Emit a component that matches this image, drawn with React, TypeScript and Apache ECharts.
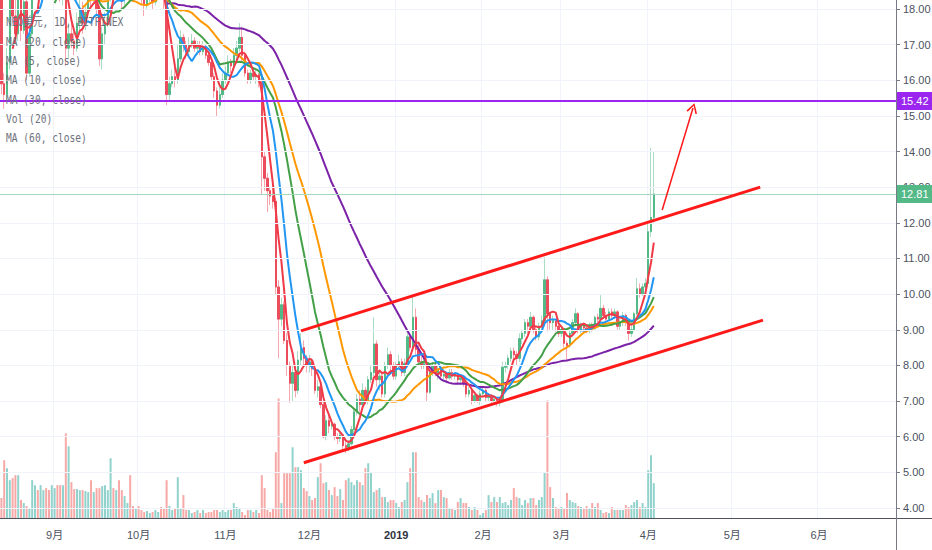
import React, { useEffect, useRef } from 'react';
import * as echarts from 'echarts';

// ---- data (daily candles, NEO/USD Bitfinex) : [open, close, low, high]
const START_DATE = Date.UTC(2018, 7, 13);
const DAY_COUNT = 320;

const ohlcAug = [
  [18.4, 15.9, 15.6, 18.6], [15.9, 15.6, 15.2, 16.2], [15.6, 16.5, 15.4, 16.9], [16.5, 18.6, 16.3, 18.9],
  [18.6, 17.8, 17.6, 19.2], [17.8, 17.3, 17.0, 18.4], [17.3, 18.3, 17.1, 18.6], [18.3, 17.4, 17.1, 18.5],
  [17.4, 18.2, 17.3, 18.5], [18.2, 16.2, 16.0, 18.4], [16.2, 17.3, 16.1, 17.5], [17.3, 18.8, 17.2, 19.0],
  [18.8, 19.0, 18.6, 19.3], [19.0, 18.6, 18.3, 19.2], [18.6, 19.6, 18.5, 19.9], [19.6, 20.2, 19.4, 20.6],
  [20.2, 19.7, 19.4, 20.4], [19.7, 19.1, 18.7, 19.9], [19.1, 19.4, 18.9, 19.7],
];
const ohlcSep = [
  [19.4, 19.7, 19.2, 20.0], [19.7, 19.5, 19.2, 19.9], [19.5, 18.4, 18.2, 19.7], [18.4, 18.7, 18.1, 19.0],
  [18.7, 16.9, 16.4, 18.9], [16.9, 17.3, 16.6, 17.6], [17.3, 17.1, 16.9, 17.7], [17.1, 16.9, 16.7, 17.4],
  [16.9, 17.6, 16.8, 17.9], [17.6, 18.0, 17.4, 18.3], [18.0, 17.6, 17.3, 18.2], [17.6, 17.9, 17.4, 18.1],
  [17.9, 18.5, 17.8, 18.8], [18.5, 18.3, 18.0, 18.7], [18.3, 18.5, 18.2, 18.8], [18.5, 18.0, 17.8, 18.6],
  [18.0, 16.6, 16.4, 18.1], [16.6, 17.3, 16.3, 17.5], [17.3, 17.6, 17.0, 17.9], [17.6, 18.3, 17.5, 18.5],
  [18.3, 19.2, 18.2, 19.5], [19.2, 19.0, 18.7, 19.4], [19.0, 19.3, 18.9, 19.6], [19.3, 18.6, 18.4, 19.4],
  [18.6, 18.3, 18.0, 18.8], [18.3, 18.5, 18.1, 18.8], [18.5, 18.9, 18.4, 19.1], [18.9, 18.6, 18.4, 19.2],
  [18.6, 18.4, 18.2, 18.8], [18.4, 18.6, 18.3, 18.8],
];
const ohlcOct = [
  [18.6, 18.5, 18.3, 18.9], [18.5, 18.3, 18.1, 18.7], [18.3, 18.1, 17.8, 18.4], [18.1, 18.4, 18.0, 18.6],
  [18.4, 18.5, 18.2, 18.7], [18.5, 18.2, 18.0, 18.6], [18.2, 18.4, 18.1, 18.6], [18.4, 18.8, 18.3, 19.0],
  [18.8, 18.5, 18.3, 18.9], [18.5, 18.3, 18.0, 18.6], [18.3, 15.6, 15.3, 18.4], [15.6, 15.9, 15.4, 16.1],
  [15.9, 16.1, 15.8, 16.3], [16.1, 16.0, 15.8, 16.4], [16.0, 16.6, 15.9, 17.0], [16.6, 17.2, 16.5, 17.4],
  [17.2, 17.0, 16.8, 17.3], [17.0, 16.8, 16.6, 17.1], [16.8, 17.0, 16.7, 17.2], [17.0, 17.1, 16.9, 17.3],
  [17.1, 16.9, 16.8, 17.2], [16.9, 17.0, 16.7, 17.1], [17.0, 16.8, 16.7, 17.1], [16.8, 16.9, 16.7, 17.1],
  [16.9, 16.7, 16.6, 17.0], [16.7, 16.5, 16.4, 16.8], [16.5, 16.1, 16.0, 16.6], [16.1, 15.7, 15.5, 16.2],
  [15.7, 15.3, 15.0, 15.8], [15.3, 15.6, 15.2, 15.8], [15.6, 16.0, 15.5, 16.2],
];
const ohlcNov = [
  [16.0, 16.2, 15.9, 16.4], [16.2, 16.5, 16.1, 16.7], [16.5, 16.4, 16.2, 16.6], [16.4, 16.7, 16.3, 16.9],
  [16.7, 16.9, 16.5, 17.1], [16.9, 17.2, 16.8, 17.6], [17.2, 16.7, 16.5, 17.5], [16.7, 16.2, 16.1, 16.8],
  [16.2, 16.0, 15.9, 16.3], [16.0, 16.2, 15.9, 16.3], [16.2, 16.1, 16.0, 16.3], [16.1, 16.15, 15.9, 16.3],
  [16.15, 15.95, 15.8, 16.2], [15.95, 13.85, 12.8, 16.1], [13.85, 13.25, 12.9, 14.0], [13.25, 12.9, 12.3, 13.4],
  [12.9, 12.75, 12.5, 13.0], [12.75, 12.6, 12.4, 13.1], [12.6, 10.2, 10.0, 12.7], [10.2, 9.3, 8.2, 10.4],
  [9.3, 9.7, 9.1, 9.9], [9.7, 8.7, 8.6, 9.8], [8.7, 8.0, 7.7, 8.9], [8.0, 7.5, 6.95, 8.1],
  [7.5, 7.8, 7.0, 8.0], [7.8, 7.3, 7.1, 8.0], [7.3, 8.15, 7.2, 8.4], [8.15, 8.5, 8.0, 8.9],
  [8.5, 8.2, 8.0, 8.7], [8.2, 8.0, 7.8, 8.3],
];
const ohlcDec = [
  [8.0, 8.1, 7.8, 8.3], [8.1, 7.9, 7.7, 8.2], [7.9, 7.3, 7.2, 8.0], [7.3, 7.4, 7.1, 7.6],
  [7.4, 6.9, 6.8, 7.5], [6.9, 6.0, 5.95, 7.0], [6.0, 6.45, 5.9, 6.6], [6.45, 6.3, 6.1, 6.6],
  [6.3, 6.35, 6.2, 6.5], [6.35, 6.0, 5.9, 6.4], [6.0, 5.95, 5.8, 6.1], [5.95, 6.05, 5.85, 6.2],
  [6.05, 5.75, 5.65, 6.1], [5.75, 5.7, 5.54, 5.85], [5.7, 5.8, 5.6, 5.9], [5.8, 6.2, 5.75, 6.3],
  [6.2, 6.7, 6.1, 6.8], [6.7, 7.05, 6.6, 7.2], [7.05, 6.9, 6.7, 7.3], [6.9, 7.3, 6.8, 7.5],
  [7.3, 7.0, 6.9, 7.4], [7.0, 7.6, 6.9, 7.7], [7.6, 7.8, 7.5, 8.0], [7.8, 8.6, 7.7, 9.35],
  [8.6, 7.6, 7.4, 8.7], [7.6, 7.7, 7.3, 7.9], [7.7, 7.2, 7.1, 7.8], [7.2, 8.0, 7.1, 8.1],
  [8.0, 8.3, 7.9, 8.5], [8.3, 8.0, 7.8, 8.4], [8.0, 7.7, 7.6, 8.1],
];
const ohlcJan = [
  [7.7, 8.0, 7.6, 8.1], [8.0, 8.1, 7.9, 8.3], [8.1, 7.8, 7.7, 8.2], [7.8, 8.05, 7.7, 8.2],
  [8.05, 8.8, 8.0, 8.9], [8.8, 8.5, 8.4, 8.9], [8.5, 9.35, 8.4, 9.97], [9.35, 8.45, 8.3, 9.6],
  [8.45, 8.1, 8.0, 8.6], [8.1, 8.0, 7.9, 8.3], [8.0, 8.05, 7.9, 8.2], [8.05, 7.25, 7.0, 8.1],
  [7.25, 7.8, 7.2, 7.9], [7.8, 8.0, 7.7, 8.1], [8.0, 7.8, 7.7, 8.1], [7.8, 7.9, 7.6, 8.0],
  [7.9, 7.7, 7.6, 8.0], [7.7, 7.75, 7.6, 7.9], [7.75, 7.65, 7.5, 7.8], [7.65, 7.8, 7.6, 7.9],
  [7.8, 7.7, 7.6, 7.9], [7.7, 7.75, 7.6, 7.8], [7.75, 7.6, 7.5, 7.8], [7.6, 7.65, 7.5, 7.7],
  [7.65, 7.5, 7.4, 7.7], [7.5, 7.2, 7.1, 7.55], [7.2, 7.3, 7.1, 7.4], [7.3, 7.0, 6.9, 7.35],
  [7.0, 7.15, 6.95, 7.2], [7.15, 7.0, 6.95, 7.2], [7.0, 7.2, 6.9, 7.3],
];
const ohlcFeb = [
  [7.2, 7.3, 7.1, 7.4], [7.3, 7.1, 7.0, 7.35], [7.1, 7.15, 7.0, 7.2], [7.15, 7.0, 6.9, 7.2],
  [7.0, 7.05, 6.9, 7.1], [7.05, 6.95, 6.85, 7.1], [6.95, 7.0, 6.85, 7.1], [7.0, 7.95, 6.95, 8.1],
  [7.95, 8.0, 7.8, 8.1], [8.0, 8.2, 7.9, 8.3], [8.2, 8.4, 8.1, 8.5], [8.4, 8.3, 8.1, 8.5],
  [8.3, 8.2, 8.0, 8.4], [8.2, 8.75, 8.1, 8.9], [8.75, 8.9, 8.6, 9.0], [8.9, 9.2, 8.8, 9.3],
  [9.2, 9.1, 8.9, 9.3], [9.1, 9.35, 9.0, 9.5], [9.35, 9.0, 8.9, 9.4], [9.0, 8.8, 8.7, 9.1],
  [8.8, 9.1, 8.7, 9.2], [9.1, 9.25, 9.0, 9.4], [9.25, 10.4, 9.1, 11.04], [10.4, 9.45, 8.95, 10.5],
  [9.45, 9.2, 9.0, 9.5], [9.2, 9.25, 9.0, 9.4], [9.25, 9.1, 8.95, 9.3], [9.1, 8.9, 8.8, 9.2],
];
const ohlcMar = [
  [8.9, 9.0, 8.8, 9.1], [9.0, 8.62, 8.5, 9.05], [8.62, 8.55, 8.15, 8.7], [8.55, 8.9, 8.5, 9.0],
  [8.9, 9.2, 8.8, 9.3], [9.2, 9.45, 9.1, 9.6], [9.45, 9.0, 8.9, 9.5], [9.0, 9.15, 8.9, 9.2],
  [9.15, 9.05, 8.95, 9.2], [9.05, 9.0, 8.9, 9.1], [9.0, 9.1, 8.9, 9.2], [9.1, 9.05, 8.95, 9.2],
  [9.05, 9.35, 9.0, 9.4], [9.35, 9.3, 9.2, 9.45], [9.3, 9.6, 9.25, 9.97], [9.6, 9.4, 9.3, 9.7],
  [9.4, 9.3, 9.2, 9.5], [9.3, 9.5, 9.25, 9.6], [9.5, 9.4, 9.3, 9.6], [9.4, 9.5, 9.3, 9.6],
  [9.5, 9.1, 9.0, 9.55], [9.1, 9.2, 9.0, 9.3], [9.2, 9.4, 9.1, 9.5], [9.4, 9.2, 9.1, 9.45],
  [9.2, 8.9, 8.7, 9.25], [8.9, 9.0, 8.8, 9.1], [9.0, 9.45, 8.95, 9.5], [9.45, 10.15, 9.4, 10.45],
  [10.15, 10.0, 9.9, 10.3], [10.0, 10.2, 9.95, 10.3], [10.2, 10.3, 10.1, 10.45],
];
const ohlcApr = [
  [10.3, 11.75, 10.2, 12.0], [11.75, 12.15, 11.6, 14.1], [12.15, 12.81, 12.0, 14.0],
];

// daily volume (thousands)
const volAug = [20, 58, 50, 38, 40, 43, 43, 18, 15, 12, 10, 38, 33, 28, 33, 28, 30, 28, 33];
const volSep = [30, 33, 33, 33, 85, 72, 36, 29, 29, 28, 28, 27, 26, 38, 26, 30, 30, 32, 33, 28, 60, 30, 28, 38, 28, 22, 15, 43, 12, 10];
const volOct = [12, 8, 6, 7, 5, 6, 8, 6, 11, 10, 38, 12, 8, 10, 41, 10, 23, 8, 8, 5, 6, 8, 5, 8, 5, 6, 6, 8, 8, 6, 8];
const volNov = [6, 8, 8, 15, 11, 10, 6, 3, 8, 8, 6, 8, 5, 43, 30, 8, 6, 10, 66, 120, 15, 45, 45, 45, 71, 51, 51, 48, 30, 27];
const volDec = [22, 18, 20, 41, 55, 35, 36, 28, 23, 31, 22, 29, 18, 38, 40, 36, 33, 38, 36, 33, 50, 55, 46, 26, 28, 30, 21, 21, 16, 18, 18];
const volJan = [15, 11, 16, 18, 36, 50, 66, 66, 21, 18, 16, 23, 20, 25, 15, 28, 28, 21, 20, 10, 10, 8, 16, 20, 15, 15, 11, 8, 11, 8, 3];
const volFeb = [5, 8, 23, 16, 21, 16, 21, 15, 16, 13, 18, 30, 21, 20, 13, 18, 15, 20, 20, 13, 18, 21, 46, 118, 31, 20, 11, 10];
const volMar = [11, 10, 25, 18, 16, 15, 12, 11, 10, 12, 10, 15, 11, 15, 8, 5, 6, 5, 11, 8, 8, 8, 8, 13, 11, 13, 16, 18, 11, 15, 11];
const volApr = [48, 63, 35];

const priceTicks = [4, 5, 6, 7, 8, 9, 10, 11, 12, 13, 14, 15, 16, 17, 18];
const levelPrice = 15.42;
const lastPrice = 12.81;
// drawn trend channel: [categoryIndex, price]
const upperChannel = [[107, 8.97], [271, 13.0]];
const lowerChannel = [[108, 5.27], [272, 9.27]];
const targetArrow = [[236, 12.36], [247, 15.22]];

const legendLines = ['NEO美元, 1D, BITFINEX', 'MA (20, close)', 'MA (5, close)', 'MA (10, close)', 'MA (30, close)', 'Vol (20)', 'MA (60, close)'];
const maDefs: [number, string][] = [[60, '#7b22a8'], [30, '#ff9800'], [20, '#43a047'], [10, '#2196f3'], [5, '#f03a47']];

const ohlc = [...ohlcAug, ...ohlcSep, ...ohlcOct, ...ohlcNov, ...ohlcDec, ...ohlcJan, ...ohlcFeb, ...ohlcMar, ...ohlcApr];
const vols = [...volAug, ...volSep, ...volOct, ...volNov, ...volDec, ...volJan, ...volFeb, ...volMar, ...volApr];

const categories: string[] = [];
for (let i = 0; i < DAY_COUNT; i++) {
  categories.push(new Date(START_DATE + i * 86400000).toISOString().slice(0, 10));
}

function movingAverage(period: number) {
  return ohlc.map((_, i) => {
    if (i < period - 1) return null;
    let s = 0;
    for (let k = i - period + 1; k <= i; k++) s += ohlc[k][1];
    return +(s / period).toFixed(4);
  });
}

const UP = '#53b987';
const DOWN = '#eb4d5c';
const UP_WICK = '#a9dcc3';
const DOWN_WICK = '#f5a6ae';
const VOL_UP = '#92d2cc';
const VOL_DOWN = '#f7a9a7';
const LEVEL = '#9b26f0';
const TREND = '#ff1a1a';
const AXIS_TEXT = '#4c525e';
const GRID = '#f0f3fa';
const FONT = "'Liberation Sans', Arial, 'Noto Sans CJK SC', sans-serif";
const ARROW = 'path://M0,10 L5,0 L10,10 L8.6,10.7 L5,2.8 L1.4,10.7 Z';

const isMonthStart = (_: number, v: string) => v.slice(8, 10) === '01';

export default function App() {
  const ref = useRef<HTMLDivElement>(null);
  useEffect(() => {
    if (!ref.current) return;
    const chart = echarts.init(ref.current, null, { renderer: 'svg' });
    const closes = ohlc.map((r) => r[1]);
    const option: any = {
      animation: false,
      backgroundColor: '#ffffff',
      grid: { left: 0, right: 36, top: 0, bottom: 32, containLabel: false, outerBoundsMode: 'none' },
      xAxis: {
        type: 'category',
        data: categories,
        boundaryGap: true,
        axisLine: { show: false },
        axisTick: { show: false },
        axisLabel: {
          interval: isMonthStart,
          color: AXIS_TEXT,
          fontSize: 11,
          fontFamily: FONT,
          margin: 11,
          formatter: (v: string) => {
            const m = +v.slice(5, 7);
            return m === 1 ? '{b|' + v.slice(0, 4) + '}' : m + '月';
          },
          rich: { b: { fontWeight: 'bold', color: '#2f3241', fontSize: 11, fontFamily: FONT } },
        },
        splitLine: { show: true, interval: isMonthStart, lineStyle: { color: GRID, width: 1 } },
      },
      yAxis: [
        {
          type: 'value',
          position: 'right',
          min: 3.72,
          max: 18.25,
          axisLine: { show: false },
          axisTick: { show: true, length: 4, customValues: priceTicks, lineStyle: { color: '#787b86' } },
          axisLabel: {
            customValues: priceTicks,
            formatter: (v: number) => v.toFixed(2),
            color: AXIS_TEXT,
            fontSize: 11,
            fontFamily: FONT,
            margin: 7,
          },
          splitLine: { show: false },
        },
        { type: 'value', min: 0, max: 520, show: false },
      ],
      graphic: [
        ...legendLines.map((t, i) => ({
          type: 'text',
          x: 6,
          y: 22.5 + i * 19.3,
          scaleX: 0.8,
          z: 100,
          style: {
            text: t,
            fill: '#6e717c',
            font: "12px 'DejaVu Sans Mono', 'Noto Sans CJK SC', monospace",
            verticalAlign: 'middle',
          },
        })),
        { type: 'line', z: 100, shape: { x1: 0, y1: 518.5, x2: 932, y2: 518.5 }, style: { stroke: '#50535e', lineWidth: 1 } },
        { type: 'line', z: 100, shape: { x1: 896.5, y1: 0, x2: 896.5, y2: 550 }, style: { stroke: '#787b86', lineWidth: 1 } },
      ],
      series: [
        {
          name: 'grid',
          type: 'line',
          data: closes,
          showSymbol: false,
          silent: true,
          z: 0,
          lineStyle: { opacity: 0 },
          markLine: {
            silent: true,
            symbol: ['none', 'none'],
            label: { show: false },
            lineStyle: { color: GRID, width: 1, type: 'solid' },
            data: priceTicks.map((v) => ({ yAxis: v })),
          },
        },
        {
          name: 'Vol',
          type: 'bar',
          yAxisIndex: 1,
          barWidth: 2,
          z: 1,
          data: vols.map((v, i) => ({
            value: v,
            itemStyle: { color: ohlc[i][1] >= ohlc[i][0] ? VOL_UP : VOL_DOWN },
          })),
        },
        {
          name: 'wick',
          type: 'candlestick',
          barWidth: 2,
          clip: true,
          z: 2,
          data: ohlc,
          itemStyle: { color: UP_WICK, color0: DOWN_WICK, borderColor: UP_WICK, borderColor0: DOWN_WICK, borderWidth: 1 },
        },
        {
          name: 'body',
          type: 'candlestick',
          barWidth: 2,
          clip: true,
          z: 3,
          data: ohlc.map((r) => [r[0], r[1], Math.min(r[0], r[1]), Math.max(r[0], r[1])]),
          itemStyle: { color: UP, color0: DOWN, borderColor: UP, borderColor0: DOWN, borderWidth: 1 },
        },
        ...maDefs.map(([p, c]) => ({
          name: 'MA' + p,
          type: 'line',
          data: movingAverage(p),
          showSymbol: false,
          clip: true,
          z: 4,
          lineStyle: { color: c, width: 2 },
        })),
        {
          name: 'drawings',
          type: 'line',
          data: closes,
          showSymbol: false,
          silent: true,
          z: 6,
          lineStyle: { opacity: 0 },
          markLine: {
            silent: true,
            symbol: ['none', 'none'],
            label: { show: false },
            data: [
              {
                yAxis: levelPrice,
                lineStyle: { color: LEVEL, width: 2, type: 'solid' },
                label: {
                  show: true, position: 'end', formatter: levelPrice.toFixed(2), color: '#ffffff',
                  backgroundColor: LEVEL, padding: [4, 4, 3, 4], fontSize: 11, fontFamily: FONT, distance: 1,
                },
              },
              {
                yAxis: lastPrice,
                lineStyle: { color: '#a5d9bd', width: 1, type: 'solid' },
                label: {
                  show: true, position: 'end', formatter: lastPrice.toFixed(2), color: '#ffffff',
                  backgroundColor: UP, padding: [4, 4, 3, 4], fontSize: 11, fontFamily: FONT, distance: 1,
                },
              },
              [
                { coord: upperChannel[0], lineStyle: { color: TREND, width: 3, type: 'solid' } },
                { coord: upperChannel[1] },
              ],
              [
                { coord: lowerChannel[0], lineStyle: { color: TREND, width: 3, type: 'solid' } },
                { coord: lowerChannel[1] },
              ],
              [
                { coord: targetArrow[0], symbol: 'none', lineStyle: { color: TREND, width: 1.5, type: 'solid' } },
                { coord: targetArrow[1], symbol: ARROW, symbolSize: [11, 10] },
              ],
            ],
          },
        },
      ],
    };
    chart.setOption(option);
    return () => chart.dispose();
  }, []);
  return <div ref={ref} style={{ position: 'fixed', left: 0, top: 0, width: 932, height: 550 }} />;
}
